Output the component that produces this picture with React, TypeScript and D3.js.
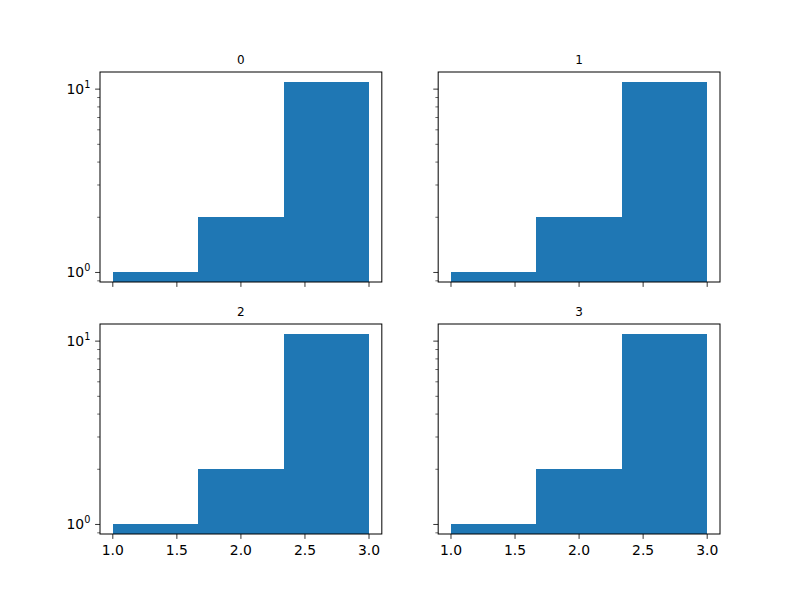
import React from 'react';
import * as d3 from 'd3';

const panelTitles = ['0', '1', '2', '3'];
const binEdges = [1.0, 1.6667, 2.3333, 3.0];
const binCounts = [1, 2, 11];
const xTicks = [1.0, 1.5, 2.0, 2.5, 3.0];
const yMajor = [1, 10];
const yMinor = [0.9, 2, 3, 4, 5, 6, 7, 8, 9];

const W = 800;
const H = 600;
const axW = 620 / 2.2;
const axH = 462 / 2.2;
const lefts = [100, 100 + axW * 1.2];
const tops = [72, 72 + axH * 1.2];
const font = 'DejaVu Sans, sans-serif';

const Panel = ({ idx }: { idx: number }) => {
  const col = idx % 2;
  const row = Math.floor(idx / 2);
  const x0 = lefts[col];
  const y0 = tops[row];
  const x = d3.scaleLinear().domain([0.9, 3.1]).range([x0, x0 + axW]);
  const lo = Math.pow(10, -0.05 * Math.log10(11));
  const hi = Math.pow(10, 1.05 * Math.log10(11));
  const y = d3.scaleLog().domain([lo, hi]).range([y0 + axH, y0]);
  const bottom = y0 + axH;
  return (
    <g>
      {binCounts.map((c, i) => (
        <rect key={i} x={x(binEdges[i])} y={y(c)}
          width={x(binEdges[i + 1]) - x(binEdges[i]) + (i < binCounts.length - 1 ? 0.5 : 0)}
          height={bottom - y(c)} fill="#1f77b4" shapeRendering="crispEdges" />
      ))}
      <rect x={x0} y={y0} width={axW} height={axH} fill="none" stroke="#000" strokeWidth={1} />
      <text x={x0 + axW / 2} y={y0 - 8} textAnchor="middle" fontSize={12} fontFamily={font}>{panelTitles[idx]}</text>
      {xTicks.map(t => (
        <g key={t}>
          <line x1={x(t)} x2={x(t)} y1={bottom} y2={bottom + 4.9} stroke="#000" strokeWidth={0.8} />
          {row === 1 && (
            <text x={x(t)} y={bottom + 20.5} textAnchor="middle" fontSize={13.9} fontFamily={font}>{t.toFixed(1)}</text>
          )}
        </g>
      ))}
      {yMinor.map(t => (
        <line key={t} x1={x0 - 2.8} x2={x0} y1={y(t)} y2={y(t)} stroke="#000" strokeWidth={0.6} />
      ))}
      {yMajor.map(t => (
        <g key={t}>
          <line x1={x0 - 4.9} x2={x0} y1={y(t)} y2={y(t)} stroke="#000" strokeWidth={0.8} />
          {col === 0 && (
            <text x={x0 - 9.7} y={y(t) + 5} textAnchor="end" fontSize={13.9} fontFamily={font}>
              10<tspan fontSize={9.7} dy={-6}>{Math.round(Math.log10(t))}</tspan>
            </text>
          )}
        </g>
      ))}
    </g>
  );
};

export default function App() {
  return (
    <svg width={W} height={H} style={{ display: 'block', margin: '-8px' }}>
      <rect width={W} height={H} fill="#fff" />
      {panelTitles.map((_, i) => <Panel key={i} idx={i} />)}
    </svg>
  );
}
